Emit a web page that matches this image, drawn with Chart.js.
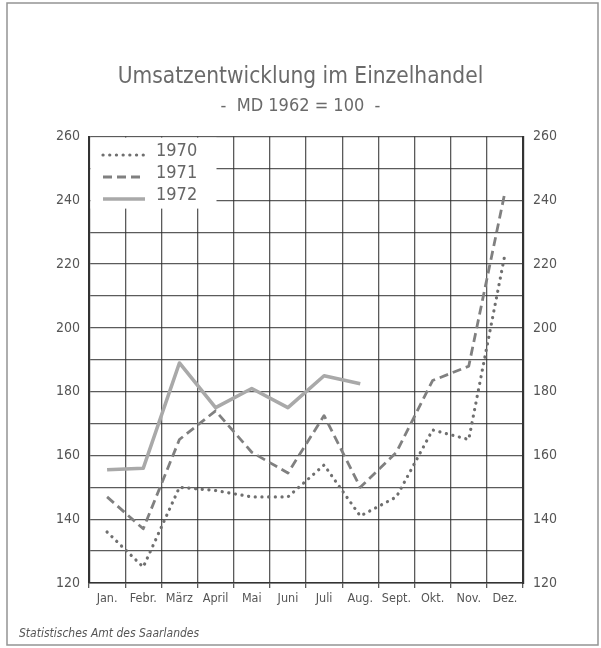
<!DOCTYPE html>
<html>
<head>
<meta charset="utf-8">
<script src="https://cdn.jsdelivr.net/npm/chart.js@4.4.1/dist/chart.umd.min.js"></script>
<style>
  html, body { margin: 0; padding: 0; background: #fff; }
  #wrap { width: 601px; height: 648px; position: relative; }
</style>
</head>
<body>
<div id="wrap"><canvas id="umsatz"></canvas></div>
<script>
// Umsatzentwicklung im Einzelhandel, MD 1962 = 100

const months = ["Jan.", "Febr.", "März", "April", "Mai", "Juni", "Juli", "Aug.", "Sept.", "Okt.", "Nov.", "Dez."];
const years = ["1970", "1971", "1972"];

const umsatz1970 = [136, 125, 150, 149, 147, 147, 157, 141, 147, 168, 165, 223];
const umsatz1971 = [147, 137, 165, 174, 161, 154.5, 172.5, 150, 161, 183.5, 188, 242.5];
const umsatz1972 = [155.5, 156, 189, 175, 181, 175, 185, 182.5, null, null, null, null];

const yMin = 120, yMax = 260, yStep = 10;

const condensed = "'DejaVu Sans Condensed', 'Liberation Sans Narrow', 'DejaVu Sans', sans-serif";
const inkGrid = "rgba(45,45,45,0.78)";
const inkText = "#555";

const styles = [
    { color: "#6f6f6f", width: 3.2, dash: [0.1, 6.6], cap: "round" },
    { color: "#808080", width: 2.8, dash: [9, 5], cap: "butt" },
    { color: "#a9a9a9", width: 3.6, dash: [], cap: "butt" }
];

// y tick labels only every 20
function evenLabel(v) { return (v % 20 === 0) ? v : ""; }

// frame round the sheet, legend in the upper left corner, footer note
const paperPlugin = {
    id: "paper",
    beforeDraw(chart) {
        const ctx = chart.ctx;
        ctx.save();
        ctx.fillStyle = "#fff";
        ctx.fillRect(0, 0, chart.width, chart.height);
        ctx.strokeStyle = "rgba(120,120,120,0.8)";
        ctx.lineWidth = 1.5;
        ctx.strokeRect(7, 3, 591, 642);
        ctx.restore();
    },
    afterDatasetsDraw(chart) {
        const ctx = chart.ctx;
        const a = chart.chartArea;
        ctx.save();
        ctx.fillStyle = "#fff";
        ctx.fillRect(a.left + 1.5, a.top + 1, 215 - a.left, 71);

        const rows = [155, 177, 199];
        years.forEach((y, i) => {
            const s = styles[i];
            ctx.strokeStyle = s.color;
            ctx.lineWidth = s.width;
            ctx.lineCap = s.cap;
            ctx.setLineDash(s.dash);
            ctx.beginPath();
            ctx.moveTo(103, rows[i]);
            ctx.lineTo(145, rows[i]);
            ctx.stroke();
            ctx.setLineDash([]);
            ctx.fillStyle = "#666";
            ctx.font = "18px " + condensed;
            ctx.textBaseline = "middle";
            ctx.textAlign = "left";
            ctx.fillText(y, 156, rows[i] - 4);
        });

        ctx.fillStyle = "#555";
        ctx.font = "italic 12px " + condensed;
        ctx.textAlign = "left";
        ctx.textBaseline = "middle";
        ctx.fillText("Statistisches Amt des Saarlandes", 19, 634);
        ctx.restore();
    }
};

const ctx = document.getElementById("umsatz").getContext("2d");
new Chart(ctx, {
    type: "line",
    data: {
        labels: months,
        datasets: [umsatz1970, umsatz1971, umsatz1972].map((d, i) => ({
            label: years[i],
            data: d,
            borderColor: styles[i].color,
            borderWidth: styles[i].width,
            borderDash: styles[i].dash,
            borderCapStyle: styles[i].cap,
            borderJoinStyle: "round",
            pointRadius: 0,
            tension: 0,
            fill: false,
            spanGaps: false,
            yAxisID: "y"
        }))
    },
    options: {
        responsive: true,
        maintainAspectRatio: false,
        animation: false,
        layout: { padding: { left: 0, right: 0, top: 0, bottom: 35 } },
        plugins: {
            legend: { display: false },
            tooltip: { enabled: false },
            title: {
                display: true,
                text: "Umsatzentwicklung im Einzelhandel",
                color: "#6a6a6a",
                font: { family: condensed, size: 22.5, weight: "normal" },
                padding: { top: 64, bottom: 5 }
            },
            subtitle: {
                display: true,
                text: "-  MD 1962 = 100  -",
                color: "#6a6a6a",
                font: { family: condensed, size: 18, weight: "normal" },
                padding: { top: 0, bottom: 19 }
            }
        },
        scales: {
            x: {
                offset: true,
                grid: {
                    offset: true,
                    color: inkGrid,
                    lineWidth: 1.3,
                    tickLength: 5
                },
                border: { color: "#333", width: 1.6 },
                ticks: {
                    color: inkText,
                    padding: 3,
                    maxRotation: 0,
                    autoSkip: false,
                    font: { family: condensed, size: 12.5 }
                },
                afterFit(scale) { scale.height = 30; }
            },
            y: {
                position: "left",
                min: yMin,
                max: yMax,
                grid: { color: inkGrid, lineWidth: 1.3, drawTicks: false },
                border: { color: "#333", width: 2.2 },
                ticks: {
                    stepSize: yStep,
                    color: inkText,
                    padding: 9,
                    font: { family: condensed, size: 14 },
                    callback: evenLabel
                },
                afterFit(scale) { scale.width = 89; }
            },
            y2: {
                position: "right",
                min: yMin,
                max: yMax,
                grid: { display: false, drawTicks: false },
                border: { color: "#333", width: 2.2 },
                ticks: {
                    stepSize: yStep,
                    color: inkText,
                    padding: 10,
                    font: { family: condensed, size: 14 },
                    callback: evenLabel
                },
                afterFit(scale) { scale.width = 78; }
            }
        }
    },
    plugins: [paperPlugin]
});
</script>
</body>
</html>
